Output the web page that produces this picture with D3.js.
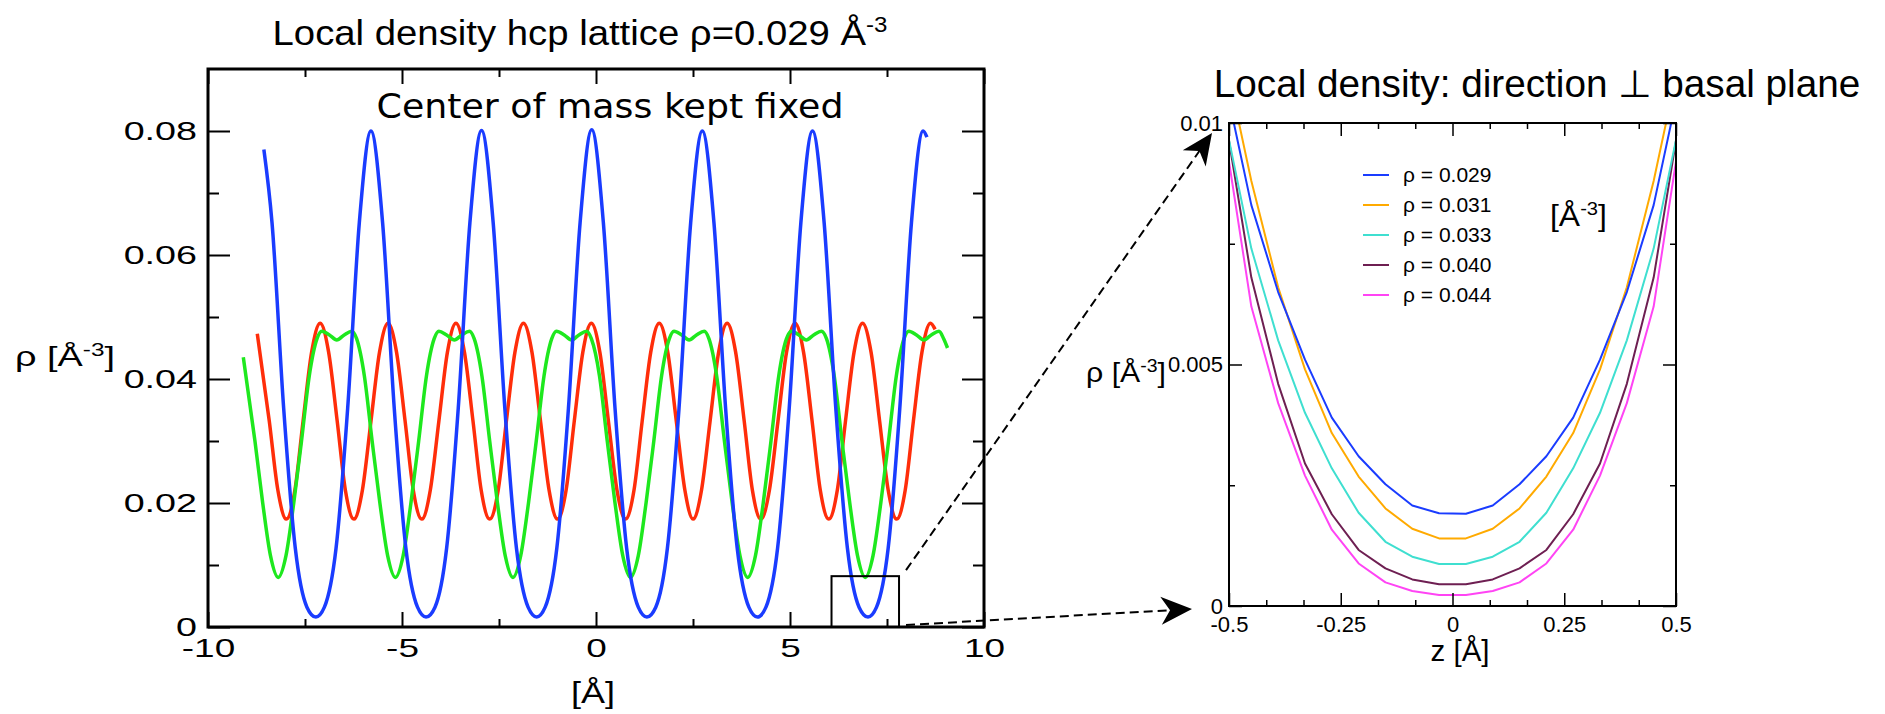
<!DOCTYPE html>
<html>
<head>
<meta charset="utf-8">
<script src="https://cdn.jsdelivr.net/npm/d3@7"></script>
<style>
  html, body { margin: 0; padding: 0; background: #fff; }
  svg { display: block; }
  text { font-family: "Liberation Sans", Arial, sans-serif; fill: #000; }
</style>
</head>
<body>
<svg id="chart"></svg>
<script>
const width = 1885;
const height = 714;

// --- Left panel: local density along a lattice row, x [Å] ---
const blueX = [-8.56,-8.35,-8.05,-7.75,-7.45,-7.22,-7.00,-6.70,-6.40,-6.10,-5.80,
  -5.50,-5.20,-4.90,-4.60,-4.38,-4.15,-3.85,-3.55,-3.25,-2.95,
  -2.65,-2.35,-2.05,-1.75,-1.53,-1.31,-1.01,-0.71,-0.41,-0.11,
  0.19,0.49,0.79,1.09,1.31,1.54,1.84,2.14,2.44,2.74,
  3.04,3.34,3.64,3.94,4.16,4.38,4.68,4.98,5.28,5.58,
  5.88,6.18,6.48,6.78,7.01,7.23,7.53,7.83,8.13,8.43,8.53];
const blueY = [0.0770,0.0652,0.0353,0.0127,0.0032,0.0016,0.0032,0.0127,0.0353,0.0652,0.0800,
  0.0652,0.0353,0.0127,0.0032,0.0016,0.0032,0.0127,0.0353,0.0652,0.0801,
  0.0652,0.0353,0.0127,0.0032,0.0016,0.0032,0.0127,0.0353,0.0652,0.0802,
  0.0652,0.0353,0.0127,0.0032,0.0016,0.0032,0.0127,0.0353,0.0652,0.0800,
  0.0652,0.0353,0.0127,0.0032,0.0016,0.0032,0.0127,0.0353,0.0652,0.0800,
  0.0652,0.0353,0.0127,0.0032,0.0016,0.0032,0.0127,0.0353,0.0652,0.0800,0.0790];

const redX = [-8.73,-8.42,-8.20,-7.98,-7.76,-7.55,-7.33,-7.11,
  -6.89,-6.67,-6.46,-6.24,-6.02,-5.80,-5.58,-5.36,
  -5.14,-4.92,-4.71,-4.49,-4.27,-4.05,-3.83,-3.61,
  -3.39,-3.17,-2.96,-2.74,-2.52,-2.31,-2.09,-1.87,
  -1.65,-1.43,-1.21,-0.99,-0.77,-0.56,-0.34,-0.12,
  0.10,0.32,0.54,0.76,0.98,1.19,1.41,1.63,
  1.85,2.07,2.29,2.50,2.72,2.94,3.16,3.38,
  3.60,3.82,4.03,4.25,4.47,4.69,4.91,5.13,
  5.35,5.57,5.78,6.00,6.22,6.43,6.65,6.87,
  7.09,7.31,7.53,7.75,7.97,8.18,8.40,8.62,8.74];
const redY = [0.0473,0.0332,0.0221,0.0174,0.0221,0.0332,0.0443,0.0490,
  0.0443,0.0332,0.0221,0.0174,0.0221,0.0332,0.0443,0.0490,
  0.0443,0.0332,0.0221,0.0174,0.0221,0.0332,0.0443,0.0490,
  0.0443,0.0332,0.0221,0.0174,0.0221,0.0332,0.0443,0.0490,
  0.0443,0.0332,0.0221,0.0174,0.0221,0.0332,0.0443,0.0490,
  0.0443,0.0332,0.0221,0.0174,0.0221,0.0332,0.0443,0.0490,
  0.0443,0.0332,0.0221,0.0174,0.0221,0.0332,0.0443,0.0490,
  0.0443,0.0332,0.0221,0.0174,0.0221,0.0332,0.0443,0.0490,
  0.0443,0.0332,0.0221,0.0174,0.0221,0.0332,0.0443,0.0490,
  0.0443,0.0332,0.0221,0.0174,0.0221,0.0332,0.0443,0.0490,0.0480];

const greenX = [-9.09,-8.79,-8.59,-8.39,-8.19,-7.99,-7.79,-7.59,-7.39,-7.19,-7.07,-6.87,-6.68,
  -6.49,-6.29,-6.17,-5.97,-5.77,-5.57,-5.37,-5.17,-4.97,-4.77,-4.57,-4.37,-4.17,-4.05,-3.85,-3.65,
  -3.46,-3.26,-3.14,-2.94,-2.74,-2.54,-2.34,-2.14,-1.94,-1.74,-1.54,-1.34,-1.14,-1.02,-0.82,-0.63,
  -0.44,-0.24,-0.12,0.09,0.29,0.49,0.69,0.89,1.09,1.29,1.49,1.69,1.89,2.01,2.21,2.40,
  2.59,2.79,2.91,3.11,3.31,3.51,3.71,3.91,4.11,4.31,4.51,4.71,4.91,5.03,5.23,5.42,
  5.61,5.81,5.94,6.14,6.34,6.54,6.74,6.94,7.14,7.34,7.54,7.74,7.94,8.06,8.26,8.45,
  8.64,8.84,8.96,9.06];
const greenY = [0.0435,0.0300,0.0200,0.0115,0.0080,0.0115,0.0200,0.0300,0.0405,0.0465,0.0477,0.0471,0.0463,
  0.0471,0.0477,0.0465,0.0405,0.0300,0.0200,0.0115,0.0080,0.0115,0.0200,0.0300,0.0405,0.0465,0.0477,0.0471,0.0463,
  0.0471,0.0477,0.0465,0.0405,0.0300,0.0200,0.0115,0.0080,0.0115,0.0200,0.0300,0.0405,0.0465,0.0477,0.0471,0.0463,
  0.0471,0.0477,0.0465,0.0405,0.0300,0.0200,0.0115,0.0080,0.0115,0.0200,0.0300,0.0405,0.0465,0.0477,0.0471,0.0463,
  0.0471,0.0477,0.0465,0.0405,0.0300,0.0200,0.0115,0.0080,0.0115,0.0200,0.0300,0.0405,0.0465,0.0477,0.0471,0.0463,
  0.0471,0.0477,0.0465,0.0405,0.0300,0.0200,0.0115,0.0080,0.0115,0.0200,0.0300,0.0405,0.0465,0.0477,0.0471,0.0463,
  0.0471,0.0477,0.0465,0.0450];

const xMajor = [-10, -5, 0, 5, 10];
const xMinor = [-7.5, -2.5, 2.5, 7.5];
const yMajor = [0, 0.02, 0.04, 0.06, 0.08];
const yMinor = [0.01, 0.03, 0.05, 0.07];

// zoom window drawn on the left panel
const boxX = [6.07, 7.81];
const boxY = [0, 0.0082];

// --- Right panel: density perpendicular to the basal plane, z [Å] ---
const zGrid = [-0.51,-0.45,-0.39,-0.33,-0.27,-0.21,-0.15,-0.09,-0.03,0.03,0.09,0.15,0.21,0.27,0.33,0.39,0.45,0.51];
const rho029 = [0.0109,0.0083,0.0065,0.0051,0.0039,0.0031,0.00252,0.00208,0.00192,0.00191,0.00208,0.00252,0.0031,0.0039,0.0051,0.0065,0.0083,0.0109];
const rho031 = [0.0114,0.0088,0.0066,0.0049,0.00358,0.00268,0.00202,0.00160,0.00140,0.00140,0.00160,0.00202,0.00268,0.00358,0.0049,0.0066,0.0088,0.0114];
const rho033 = [0.0101,0.0074,0.0055,0.0040,0.00285,0.00193,0.00133,0.00102,0.00087,0.00087,0.00102,0.00133,0.00193,0.00285,0.0040,0.0055,0.0074,0.0101];
const rho040 = [0.0102,0.0068,0.0046,0.00295,0.00190,0.00116,0.00078,0.00055,0.00045,0.00045,0.00055,0.00078,0.00116,0.00190,0.00295,0.0046,0.0068,0.0102];
const rho044 = [0.0098,0.0062,0.0042,0.0027,0.00158,0.00088,0.00049,0.00031,0.00023,0.00023,0.00031,0.00049,0.00088,0.00158,0.0027,0.0042,0.0062,0.0098];

const legendLabels = ["ρ = 0.029", "ρ = 0.031", "ρ = 0.033", "ρ = 0.040", "ρ = 0.044"];
const legendColors = ["#1a3cff", "#ffaa00", "#3fdfd0", "#6e1f52", "#ff44f4"];

const zMajor = [-0.5, -0.25, 0, 0.25, 0.5];
const zMinor = [-5/12, -4/12, -2/12, -1/12, 1/12, 2/12, 4/12, 5/12];
const rMajor = [0, 0.005, 0.01];
const rMinor = [0.0025, 0.0075];

// --- SVG ---
const svg = d3.select("#chart")
  .attr("width", width)
  .attr("height", height)
  .attr("viewBox", [0, 0, width, height]);

// text placed in its own group so it can be stretched to a width
function label(x, y, anchor, size, family) {
  const g = svg.append("g").attr("transform", `translate(${x},${y})`);
  const t = g.append("text")
    .attr("text-anchor", anchor)
    .attr("font-size", size);
  if (family) t.style("font-family", family);
  return t;
}
function fit(t, w) {
  const bw = t.node().getBBox().width;
  t.attr("transform", `scale(${w / bw},1)`);
}
function rhoUnit(t, base, sup) {
  t.append("tspan").text(base);
  t.append("tspan").attr("font-size", sup).attr("dy", -sup * 0.55).text("-3");
  t.append("tspan").attr("dy", sup * 0.55).text("]");
}

const addAxis = (axis, tx, ty) => svg.append("g")
  .attr("transform", `translate(${tx},${ty})`)
  .call(axis)
  .call(a => a.select(".domain").remove())
  .attr("font-family", null)
  .attr("font-size", null);

// ================= LEFT PANEL =================
const xL = d3.scaleLinear().domain([-10, 10]).range([208, 984]);
const yL = d3.scaleLinear().domain([0, 0.09]).range([627, 69]);

const lineL = d3.line()
  .x(d => xL(d[0]))
  .y(d => yL(d[1]))
  .curve(d3.curveMonotoneX);

const leftSeries = [
  {x: redX, y: redY, color: "#ff2d0a"},
  {x: greenX, y: greenY, color: "#1ee81e"},
  {x: blueX, y: blueY, color: "#1a3cff"}
];
leftSeries.forEach(s => {
  svg.append("path")
    .datum(s.x.map((v, i) => [v, s.y[i]]))
    .attr("fill", "none")
    .attr("stroke", s.color)
    .attr("stroke-width", 3.5)
    .attr("stroke-linejoin", "round")
    .attr("d", lineL);
});

// ticks (inward on all four sides)
const lb = addAxis(d3.axisBottom(xL).tickValues(xMajor).tickSize(-15).tickFormat(d => String(d)), 0, yL(0));
lb.selectAll("line").attr("stroke-width", 2);
lb.selectAll("text")
  .attr("y", 30).attr("dy", null)
  .attr("font-size", 26)
  .attr("transform", "scale(1.42,1)");
addAxis(d3.axisBottom(xL).tickValues(xMinor).tickSize(-8).tickFormat(""), 0, yL(0))
  .selectAll("line").attr("stroke-width", 2);
addAxis(d3.axisTop(xL).tickValues(xMajor).tickSize(-15).tickFormat(""), 0, yL(0.09))
  .selectAll("line").attr("stroke-width", 2);
addAxis(d3.axisTop(xL).tickValues(xMinor).tickSize(-8).tickFormat(""), 0, yL(0.09))
  .selectAll("line").attr("stroke-width", 2);

const ll = addAxis(d3.axisLeft(yL).tickValues(yMajor).tickSize(-22)
  .tickFormat(d => d === 0 ? "0" : d.toFixed(2)), xL(-10), 0);
ll.selectAll("line").attr("stroke-width", 2);
ll.selectAll("text")
  .attr("x", -11 / 1.45)
  .attr("font-size", 26)
  .attr("transform", "scale(1.45,1)");
addAxis(d3.axisLeft(yL).tickValues(yMinor).tickSize(-11).tickFormat(""), xL(-10), 0)
  .selectAll("line").attr("stroke-width", 2);
addAxis(d3.axisRight(yL).tickValues(yMajor).tickSize(-22).tickFormat(""), xL(10), 0)
  .selectAll("line").attr("stroke-width", 2);
addAxis(d3.axisRight(yL).tickValues(yMinor).tickSize(-11).tickFormat(""), xL(10), 0)
  .selectAll("line").attr("stroke-width", 2);

// frame
svg.append("rect")
  .attr("x", xL(-10)).attr("y", yL(0.09))
  .attr("width", xL(10) - xL(-10)).attr("height", yL(0) - yL(0.09))
  .attr("fill", "none").attr("stroke", "#000").attr("stroke-width", 3);

// zoom window
svg.append("rect")
  .attr("x", xL(boxX[0])).attr("y", yL(boxY[1]))
  .attr("width", xL(boxX[1]) - xL(boxX[0])).attr("height", yL(boxY[0]) - yL(boxY[1]))
  .attr("fill", "none").attr("stroke", "#000").attr("stroke-width", 2);

// titles and axis labels
const t1 = label(580, 45, "middle", 35);
t1.append("tspan").text("Local density hcp lattice ρ=0.029 Å");
t1.append("tspan").attr("font-size", 22).attr("dy", -13).text("-3");
fit(t1, 615);

const t2 = label(610, 118, "middle", 34, "'Comic Sans MS', 'DejaVu Sans', sans-serif");
t2.text("Center of mass kept fixed");
fit(t2, 467);

const t3 = label(15, 366, "start", 28);
rhoUnit(t3, "ρ [Å", 18);
fit(t3, 100);

const t4 = label(593, 703, "middle", 29);
t4.text("[Å]");
fit(t4, 44);

// ================= RIGHT PANEL =================
const xR = d3.scaleLinear().domain([-0.5, 0.5]).range([1229, 1676]);
const yR = d3.scaleLinear().domain([0, 0.01]).range([606, 123]);

svg.append("clipPath").attr("id", "clipR")
  .append("rect")
  .attr("x", xR(-0.5)).attr("y", yR(0.01))
  .attr("width", xR(0.5) - xR(-0.5)).attr("height", yR(0) - yR(0.01));

const lineR = d3.line()
  .x((d, i) => xR(zGrid[i]))
  .y(d => yR(d));

const rightSeries = [rho044, rho040, rho033, rho031, rho029];
const gR = svg.append("g").attr("clip-path", "url(#clipR)");
rightSeries.forEach((s, i) => {
  gR.append("path")
    .datum(s)
    .attr("fill", "none")
    .attr("stroke", legendColors[4 - i])
    .attr("stroke-width", 2)
    .attr("stroke-linejoin", "round")
    .attr("d", lineR);
});

const rb = addAxis(d3.axisBottom(xR).tickValues(zMajor).tickSize(-13).tickFormat(d => String(d)), 0, yR(0));
rb.selectAll("text").attr("y", 26).attr("dy", null).attr("font-size", 22);
rb.selectAll("line").attr("stroke-width", 1.5);
addAxis(d3.axisBottom(xR).tickValues(zMinor).tickSize(-6).tickFormat(""), 0, yR(0))
  .selectAll("line").attr("stroke-width", 1.5);
addAxis(d3.axisTop(xR).tickValues(zMajor).tickSize(-13).tickFormat(""), 0, yR(0.01))
  .selectAll("line").attr("stroke-width", 1.5);
addAxis(d3.axisTop(xR).tickValues(zMinor).tickSize(-6).tickFormat(""), 0, yR(0.01))
  .selectAll("line").attr("stroke-width", 1.5);

const rl = addAxis(d3.axisLeft(yR).tickValues(rMajor).tickSize(-13).tickFormat(d => String(d)), xR(-0.5), 0);
rl.selectAll("text").attr("x", -6).attr("font-size", 22);
rl.selectAll("line").attr("stroke-width", 1.5);
addAxis(d3.axisLeft(yR).tickValues(rMinor).tickSize(-6).tickFormat(""), xR(-0.5), 0)
  .selectAll("line").attr("stroke-width", 1.5);
addAxis(d3.axisRight(yR).tickValues(rMajor).tickSize(-13).tickFormat(""), xR(0.5), 0)
  .selectAll("line").attr("stroke-width", 1.5);
addAxis(d3.axisRight(yR).tickValues(rMinor).tickSize(-6).tickFormat(""), xR(0.5), 0)
  .selectAll("line").attr("stroke-width", 1.5);

svg.append("rect")
  .attr("x", xR(-0.5)).attr("y", yR(0.01))
  .attr("width", xR(0.5) - xR(-0.5)).attr("height", yR(0) - yR(0.01))
  .attr("fill", "none").attr("stroke", "#000").attr("stroke-width", 2);

// legend
legendLabels.forEach((name, i) => {
  const yy = 175 + i * 30;
  svg.append("line")
    .attr("x1", 1363).attr("x2", 1389)
    .attr("y1", yy).attr("y2", yy)
    .attr("stroke", legendColors[i]).attr("stroke-width", 2);
  svg.append("text")
    .attr("x", 1403).attr("y", yy + 7)
    .attr("font-size", 21)
    .text(name);
});

const t5 = label(1550, 226, "start", 30);
t5.append("tspan").text("[Å");
t5.append("tspan").attr("font-size", 19).attr("dy", -11).text("-3");
t5.append("tspan").attr("dy", 11).text("]");
fit(t5, 57);

const t6 = label(1537, 97, "middle", 38);
t6.text("Local density: direction ⊥ basal plane");
fit(t6, 647);

const t7 = label(1460, 661, "middle", 30);
t7.text("z [Å]");
fit(t7, 59);

const t8 = label(1166, 382, "end", 28);
rhoUnit(t8, "ρ [Å", 18);
fit(t8, 80);

// ================= ZOOM ARROWS =================
function arrow(x0, y0, x1, y1) {
  const len = Math.hypot(x1 - x0, y1 - y0);
  const ux = (x1 - x0) / len, uy = (y1 - y0) / len;
  const L = 31, hw = 14, notch = 22;
  const bx = x1 - L * ux, by = y1 - L * uy;
  const nx = x1 - notch * ux, ny = y1 - notch * uy;
  svg.append("line")
    .attr("x1", x0).attr("y1", y0)
    .attr("x2", nx).attr("y2", ny)
    .attr("stroke", "#000").attr("stroke-width", 2)
    .attr("stroke-dasharray", "9,5");
  svg.append("path")
    .attr("d", `M${x1},${y1}L${bx - hw * uy},${by + hw * ux}L${nx},${ny}L${bx + hw * uy},${by - hw * ux}Z`)
    .attr("fill", "#000");
}
arrow(xL(boxX[1]) + 7, yL(boxY[1]) - 6, xR(-0.5) - 17, yR(0.01) + 10);
arrow(xL(boxX[1]) + 7, yL(0) - 2, xR(-0.5) - 37, yR(0) + 3);
</script>
</body>
</html>
